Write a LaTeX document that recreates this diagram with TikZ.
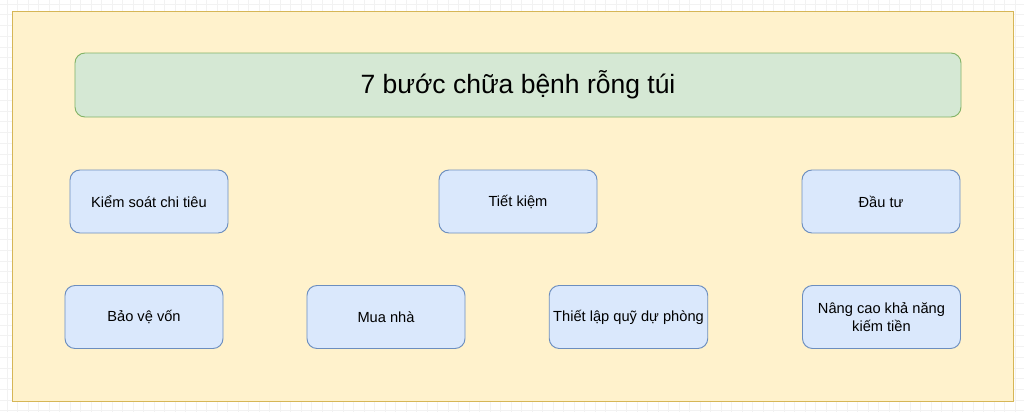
\documentclass[tikz,border=0pt]{standalone}
\usepackage{fontspec}
\setmainfont{Liberation Sans}

\definecolor{paneFill}{HTML}{FFF2CC}
\definecolor{paneLine}{HTML}{D6B656}
\definecolor{titleFill}{HTML}{D5E8D4}
\definecolor{titleLine}{HTML}{82B366}
\definecolor{stepFill}{HTML}{DAE8FC}
\definecolor{stepLine}{HTML}{6C8EBF}

\begin{document}
\begin{tikzpicture}[x=0.03cm,y=-0.03cm,
    gridline/.style={draw=black!5,line width=0.4pt},
    stepbox/.style={draw=stepLine,fill=stepFill,line width=0.8pt,rounded corners=0.3cm,
      minimum width=4.74cm,minimum height=1.89cm,align=center,font=\fontsize{12.5}{15}\selectfont},
    titlebox/.style={draw=titleLine,fill=titleFill,line width=0.8pt,rounded corners=0.3cm,
      minimum width=26.58cm,minimum height=1.92cm,font=\fontsize{22.6}{27}\selectfont}]
  \useasboundingbox (0,0) rectangle (1024,412);
  % nền lưới
  \fill[white] (0,0) rectangle (1024,412);
  \foreach \gx in {7,17.5,...,1024} \draw[gridline] (\gx,0) -- (\gx,412);
  \foreach \gy in {4,14.7,...,412} \draw[gridline] (0,\gy) -- (1024,\gy);

  % khung vàng
  \draw[draw=paneLine,fill=paneFill,line width=0.8pt] (12,11) rectangle (1013,401);

  % tiêu đề
  \node[titlebox] (tieude) at (518,85) {7 bước chữa bệnh rỗng túi};

  % hàng trên
  \node[stepbox] (kiemsoat) at (149,201.5) {Kiểm soát chi tiêu};
  \node[stepbox] (tietkiem) at (518,201.5) {Tiết kiệm};
  \node[stepbox] (dautu) at (881,201.5) {Đầu tư};

  % hàng dưới
  \node[stepbox] (baove) at (144,317) {Bảo vệ vốn};
  \node[stepbox] (muanha) at (386,317) {Mua nhà};
  \node[stepbox] (duphong) at (628.5,317) {Thiết lập quỹ dự phòng};
  \node[stepbox] (nangcao) at (881.5,317) {Nâng cao khả năng\\kiếm tiền};
\end{tikzpicture}
\end{document}
